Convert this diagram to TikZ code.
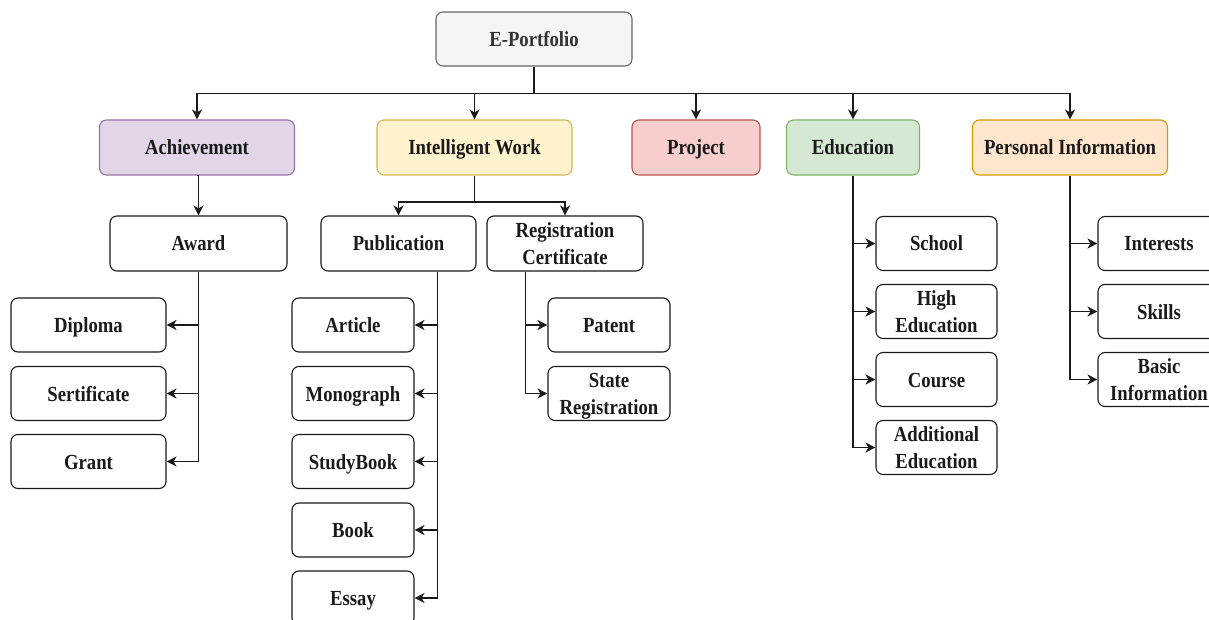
\documentclass[tikz,border=0pt]{standalone}
\usepackage{fontspec}
\setmainfont{Liberation Serif}[FakeStretch=0.87]
\usetikzlibrary{arrows.meta,calc}

\definecolor{rootfill}{HTML}{F5F5F5}\definecolor{rootline}{HTML}{666666}
\definecolor{achfill}{HTML}{E1D5E7}\definecolor{achline}{HTML}{9673A6}
\definecolor{iwfill}{HTML}{FFF2CC}\definecolor{iwline}{HTML}{D6B656}
\definecolor{prjfill}{HTML}{F8CECC}\definecolor{prjline}{HTML}{B85450}
\definecolor{edufill}{HTML}{D5E8D4}\definecolor{eduline}{HTML}{82B366}
\definecolor{pifill}{HTML}{FFE6CC}\definecolor{piline}{HTML}{D79B00}
\definecolor{ink}{HTML}{1A1A1A}

% first line strut and depthless last line for two-line labels
\newcommand{\rowtop}{\rule{0pt}{15pt}}
\newcommand{\nodepth}[1]{\raisebox{0pt}[\height][0pt]{#1}}

\tikzset{
  box/.style={draw=ink, fill=white, rounded corners=7pt, line width=1.1pt,
    inner sep=0pt, align=center, text=ink,
    font=\fontsize{21.5}{27}\selectfont\bfseries},
  one/.style={text height=15pt, text depth=0pt},
  toplevel/.style={box, minimum height=55pt},
  leaf/.style={box, minimum height=54pt},
  wire/.style={line width=1.3pt, draw=ink, line join=miter},
  conn/.style={wire, -{Stealth[length=10pt,width=10pt,inset=3pt]}},
}

\begin{document}
\begin{tikzpicture}[x=1pt,y=-1pt]
\clip (0,0) rectangle (1209,620);
\fill[white] (0,0) rectangle (1209,620);

% root
\node[box, one, minimum width=196pt, minimum height=54pt, fill=rootfill, draw=rootline, text=black!80]
  (root) at (534,39) {E-Portfolio};

% first level
\node[toplevel, one, minimum width=195pt, fill=achfill, draw=achline] (ach) at (197,147.5) {Achievement};
\node[toplevel, one, minimum width=195pt, fill=iwfill, draw=iwline] (iw) at (474.5,147.5) {Intelligent Work};
\node[toplevel, one, minimum width=128pt, fill=prjfill, draw=prjline] (prj) at (696,147.5) {Project};
\node[toplevel, one, minimum width=133pt, fill=edufill, draw=eduline] (edu) at (853,147.5) {Education};
\node[toplevel, one, minimum width=195pt, fill=pifill, draw=piline] (pi) at (1070,147.5) {Personal Information};

% second level
\node[toplevel, one, minimum width=177pt] (award) at (198.5,243.5) {Award};
\node[toplevel, one, minimum width=155pt] (pub) at (398.5,243.5) {Publication};
\node[toplevel, minimum width=156pt] (reg) at (565,243.5) {\rowtop Registration\\Certificate};

% achievement leaves
\node[leaf, one, minimum width=155pt] (dip) at (88.5,325) {Diploma};
\node[leaf, one, minimum width=155pt] (ser) at (88.5,393.5) {Sertificate};
\node[leaf, one, minimum width=155pt] (gra) at (88.5,461.5) {Grant};

% publication leaves
\node[leaf, one, minimum width=122pt] (art) at (353,325) {Article};
\node[leaf, one, minimum width=122pt] (mon) at (353,393.5) {Monograph};
\node[leaf, one, minimum width=122pt] (stb) at (353,461.5) {StudyBook};
\node[leaf, one, minimum width=122pt] (bok) at (353,530) {Book};
\node[leaf, one, minimum width=122pt] (ess) at (353,598) {Essay};

% registration leaves
\node[leaf, one, minimum width=122pt] (pat) at (609,325) {Patent};
\node[leaf, minimum width=122pt] (str) at (609,393.5) {\rowtop State\\\nodepth{Registration}};

% education leaves
\node[leaf, one, minimum width=121pt] (sch) at (936.5,243.5) {School};
\node[leaf, minimum width=121pt] (hed) at (936.5,311.5) {\rowtop High\\Education};
\node[leaf, one, minimum width=121pt] (crs) at (936.5,379.5) {Course};
\node[leaf, minimum width=121pt] (aed) at (936.5,447.5) {\rowtop Additional\\Education};

% personal information leaves
\node[leaf, one, minimum width=122pt] (int) at (1159,243.5) {Interests};
\node[leaf, one, minimum width=122pt] (skl) at (1159,311.5) {Skills};
\node[leaf, minimum width=122pt] (bas) at (1159,379.5) {\rowtop Basic\\Information};

% bus levels
\coordinate (bus) at (0,93.5);
\coordinate (bus2) at (0,202);

% root to first level (each segment drawn once)
\draw[conn] (root.south) -- (root.south |- bus) -| (iw.north);
\draw[conn] (root.south |- bus) -| (prj.north);
\draw[conn] (iw.north |- bus) -| (ach.north);
\draw[conn] (prj.north |- bus) -| (edu.north);
\draw[conn] (edu.north |- bus) -| (pi.north);

% achievement branch
\draw[conn] (ach.south) -- (ach.south -| award.north) -- (award.north);
\draw[conn] (award.south) |- (dip.east);
\draw[conn] (award.south |- dip.east) |- (ser.east);
\draw[conn] (award.south |- ser.east) |- (gra.east);

% intelligent work branch
\draw[conn] (iw.south) -- (iw.south |- bus2) -| (pub.north);
\draw[conn] (iw.south |- bus2) -| (reg.north);
\coordinate (pubstem) at ($(pub.south west)!0.75!(pub.south east)$);
\draw[conn] (pubstem) |- (art.east);
\draw[conn] (pubstem |- art.east) |- (mon.east);
\draw[conn] (pubstem |- mon.east) |- (stb.east);
\draw[conn] (pubstem |- stb.east) |- (bok.east);
\draw[conn] (pubstem |- bok.east) |- (ess.east);
\coordinate (regstem) at ($(reg.south west)!0.25!(reg.south east)$);
\draw[conn] (regstem) |- (pat.west);
\draw[conn] (regstem |- pat.west) |- (str.west);

% education branch
\draw[conn] (edu.south) |- (sch.west);
\draw[conn] (edu.south |- sch.west) |- (hed.west);
\draw[conn] (edu.south |- hed.west) |- (crs.west);
\draw[conn] (edu.south |- crs.west) |- (aed.west);

% personal information branch
\draw[conn] (pi.south) |- (int.west);
\draw[conn] (pi.south |- int.west) |- (skl.west);
\draw[conn] (pi.south |- skl.west) |- (bas.west);
\end{tikzpicture}
\end{document}
